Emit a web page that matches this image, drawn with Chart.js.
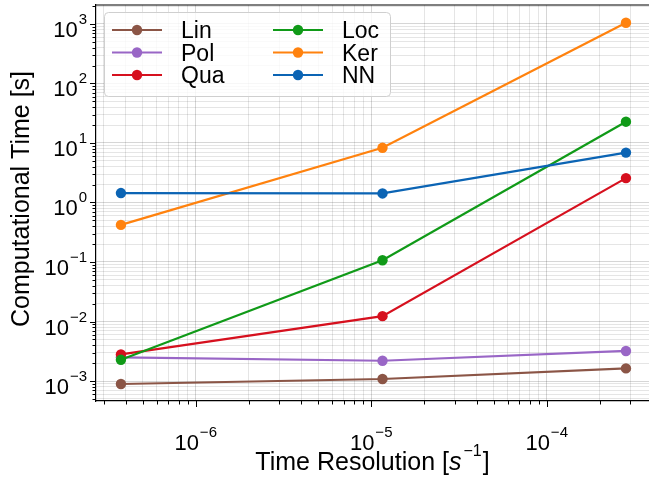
<!DOCTYPE html>
<html lang="en">
<head>
    <meta charset="UTF-8">
    <title>Computational Time vs Time Resolution</title>
    <script src="https://cdn.jsdelivr.net/npm/chart.js"></script>
    <style>
        html, body {
            margin: 0;
            padding: 0;
            background: #fff;
        }
        #chart-box {
            width: 649px;
            height: 478px;
        }
    </style>
</head>
<body>
    <div id="chart-box">
        <canvas id="timing-chart" width="649" height="478"></canvas>
    </div>

    <script>
        // values
        const resolutions = [3.75e-7, 1.16e-5, 2.83e-4];
        const seriesNames = ['Lin', 'Pol', 'Qua', 'Loc', 'Ker', 'NN'];
        const linTimes = [8.9e-4, 1.08e-3, 1.63e-3];
        const polTimes = [2.5e-3, 2.19e-3, 3.2e-3];
        const quaTimes = [2.8e-3, 1.23e-2, 2.57];
        const locTimes = [2.27e-3, 0.107, 22.8];
        const kerTimes = [0.42, 8.3, 1050];
        const nnTimes = [1.44, 1.42, 6.9];
        const xTickExponents = [-6, -5, -4];
        const yTickExponents = [-3, -2, -1, 0, 1, 2, 3];

        const seriesColors = ['#8b5546', '#9966c6', '#d6101e', '#109a18', '#ff820e', '#0b64b4'];
        const allTimes = [linTimes, polTimes, quaTimes, locTimes, kerTimes, nnTimes];

        const FONT = '"Liberation Sans", Arial, sans-serif';
        const MINUS = '\u2212';

        function logTicks(min, max) {
            const ticks = [];
            for (let e = Math.floor(Math.log10(min)); e <= Math.ceil(Math.log10(max)); e++) {
                for (let m = 1; m <= 9; m++) {
                    const v = m * Math.pow(10, e);
                    if (v >= min && v <= max) ticks.push({ value: v, major: m === 1 });
                }
            }
            return ticks;
        }

        function expText(e) {
            return e < 0 ? MINUS + Math.abs(e) : String(e);
        }

        // draws "10" with a raised exponent; align = 'center' or 'right'
        function drawPower(ctx, e, x, baseline, align) {
            ctx.font = '22px ' + FONT;
            const wBase = ctx.measureText('10').width;
            ctx.font = '15px ' + FONT;
            const exp = expText(e);
            const wExp = ctx.measureText(exp).width;
            const total = wBase + 1 + wExp;
            const left = align === 'right' ? x - total : x - total / 2;
            ctx.textAlign = 'left';
            ctx.textBaseline = 'alphabetic';
            ctx.font = '22px ' + FONT;
            ctx.fillText('10', left, baseline);
            ctx.font = '15px ' + FONT;
            ctx.fillText(exp, left + wBase + 1, baseline - 13);
        }

        const decorations = {
            id: 'decorations',
            afterDraw(chart) {
                const ctx = chart.ctx;
                const area = chart.chartArea;
                const xs = chart.scales.x;
                const ys = chart.scales.y;
                ctx.save();
                ctx.fillStyle = '#000';
                ctx.strokeStyle = '#000';

                // top spine
                ctx.lineWidth = 1.2;
                ctx.beginPath();
                ctx.moveTo(area.left, area.top);
                ctx.lineTo(area.right, area.top);
                ctx.stroke();

                // tick marks
                ctx.lineWidth = 1;
                xs.ticks.forEach(t => {
                    const px = Math.round(xs.getPixelForValue(t.value)) + 0.5;
                    const len = t.major ? 6 : 3.5;
                    ctx.beginPath();
                    ctx.moveTo(px, area.bottom);
                    ctx.lineTo(px, area.bottom + len);
                    ctx.stroke();
                });
                ys.ticks.forEach(t => {
                    const py = Math.round(ys.getPixelForValue(t.value)) + 0.5;
                    const len = t.major ? 6 : 3.5;
                    ctx.beginPath();
                    ctx.moveTo(area.left, py);
                    ctx.lineTo(area.left - len, py);
                    ctx.stroke();
                });

                // tick labels
                xTickExponents.forEach(e => {
                    drawPower(ctx, e, xs.getPixelForValue(Math.pow(10, e)), 450, 'center');
                });
                yTickExponents.forEach(e => {
                    drawPower(ctx, e, 87, ys.getPixelForValue(Math.pow(10, e)) + 13, 'right');
                });

                // axis titles
                ctx.font = '25px ' + FONT;
                ctx.save();
                ctx.translate(29, (area.top + area.bottom) / 2 - 4);
                ctx.rotate(-Math.PI / 2);
                ctx.textAlign = 'center';
                ctx.textBaseline = 'alphabetic';
                ctx.fillText('Computational Time [s]', 0, 0);
                ctx.restore();

                const partA = 'Time Resolution [';
                const partS = 's';
                const partE = MINUS + '1';
                const partB = ']';
                ctx.font = '25px ' + FONT;
                const wA = ctx.measureText(partA).width;
                const wB = ctx.measureText(partB).width;
                ctx.font = 'italic 25px ' + FONT;
                const wS = ctx.measureText(partS).width;
                ctx.font = '16px ' + FONT;
                const wE = ctx.measureText(partE).width;
                const total = wA + wS + 2 + wE + 1 + wB;
                let cx = (area.left + area.right) / 2 - total / 2;
                const base = 470;
                ctx.textAlign = 'left';
                ctx.font = '25px ' + FONT;
                ctx.fillText(partA, cx, base);
                cx += wA;
                ctx.font = 'italic 25px ' + FONT;
                ctx.fillText(partS, cx, base);
                cx += wS + 2;
                ctx.font = '16px ' + FONT;
                ctx.fillText(partE, cx, base - 14);
                cx += wE + 1;
                ctx.font = '25px ' + FONT;
                ctx.fillText(partB, cx, base);

                // legend, two columns of three
                ctx.beginPath();
                ctx.roundRect(104.5, 12.5, 286, 84, 4);
                ctx.fillStyle = 'rgba(255,255,255,0.8)';
                ctx.fill();
                ctx.strokeStyle = '#cfcfcf';
                ctx.lineWidth = 1;
                ctx.stroke();

                const colX = [112, 273];
                const textX = [181, 342];
                const rowY = [30, 52.5, 75];
                chart.data.datasets.forEach((ds, i) => {
                    const col = Math.floor(i / 3);
                    const y = rowY[i % 3];
                    ctx.strokeStyle = ds.borderColor;
                    ctx.lineWidth = 2.2;
                    ctx.beginPath();
                    ctx.moveTo(colX[col], y);
                    ctx.lineTo(colX[col] + 50, y);
                    ctx.stroke();
                    ctx.fillStyle = ds.borderColor;
                    ctx.beginPath();
                    ctx.arc(colX[col] + 25, y, 5.2, 0, Math.PI * 2);
                    ctx.fill();
                    ctx.fillStyle = '#000';
                    ctx.font = '23px ' + FONT;
                    ctx.textAlign = 'left';
                    ctx.textBaseline = 'alphabetic';
                    ctx.fillText(ds.label, textX[col], y + 8);
                });

                ctx.restore();
            }
        };

        const datasets = seriesNames.map((name, i) => ({
            label: name,
            data: resolutions.map((r, k) => ({ x: r, y: allTimes[i][k] })),
            borderColor: seriesColors[i],
            backgroundColor: seriesColors[i],
            borderWidth: 2.2,
            pointRadius: 5.2,
            pointHoverRadius: 5.2,
            pointBorderWidth: 0,
            tension: 0,
            fill: false,
            order: seriesNames.length - i
        }));

        function gridColor(c) {
            return c.tick && c.tick.major ? 'rgba(0,0,0,0.16)' : 'rgba(0,0,0,0.1)';
        }

        new Chart(document.getElementById('timing-chart'), {
            type: 'line',
            data: { datasets: datasets },
            options: {
                responsive: false,
                devicePixelRatio: 1,
                animation: false,
                events: [],
                layout: { autoPadding: false, padding: { top: 5, left: 0, right: 0, bottom: 0 } },
                plugins: {
                    legend: { display: false },
                    tooltip: { enabled: false }
                },
                scales: {
                    x: {
                        type: 'logarithmic',
                        min: Math.pow(10, -6.568),
                        max: Math.pow(10, -3.417),
                        ticks: { display: false },
                        grid: { drawTicks: false, color: gridColor, lineWidth: 1 },
                        border: { display: true, color: '#000', width: 1.2 },
                        afterBuildTicks: s => { s.ticks = logTicks(s.min, s.max); },
                        afterFit: s => { s.height = 77; }
                    },
                    y: {
                        type: 'logarithmic',
                        min: Math.pow(10, -3.336),
                        max: Math.pow(10, 3.319),
                        ticks: { display: false },
                        grid: { drawTicks: false, color: gridColor, lineWidth: 1 },
                        border: { display: true, color: '#000', width: 1.2 },
                        afterBuildTicks: s => { s.ticks = logTicks(s.min, s.max); },
                        afterFit: s => { s.width = 96; }
                    }
                }
            },
            plugins: [decorations]
        });
    </script>
</body>
</html>
